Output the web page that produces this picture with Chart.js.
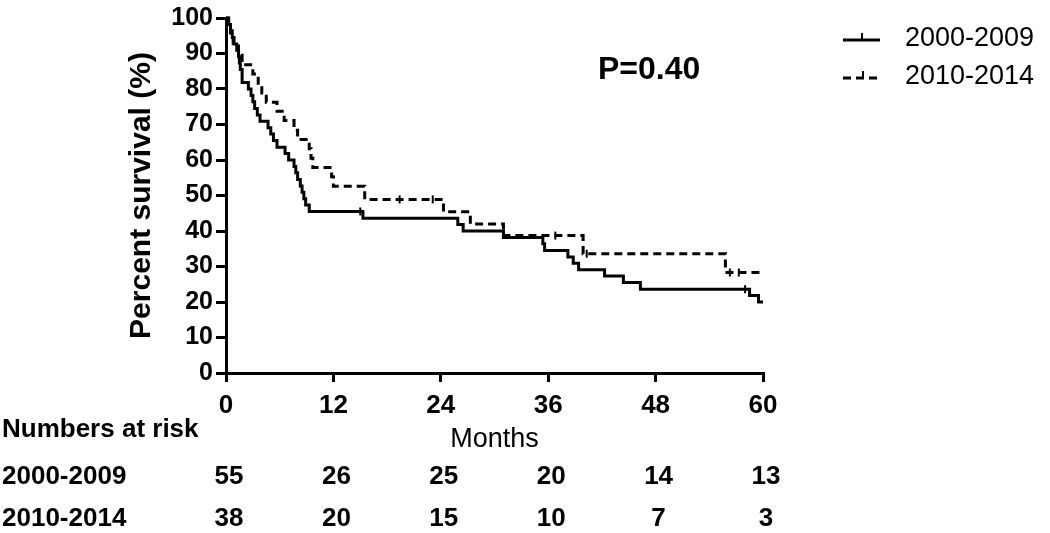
<!DOCTYPE html>
<html>
<head>
<meta charset="utf-8">
<title>Survival by treatment period</title>
<script src="https://cdn.jsdelivr.net/npm/chart.js@4.4.0/dist/chart.umd.min.js"></script>
<style>
  body { margin: 0; background: #fff; }
</style>
</head>
<body>
<canvas id="kmChart" width="1050" height="533"></canvas>
<script>
let monthTicks = [0, 12, 24, 36, 48, 60];
let groups = ["2000-2009", "2010-2014"];

// 2000-2009 curve: month of each step and percent surviving after it
let earlyMonths = [0, 0.3, 0.5, 0.7, 0.9, 1.2, 1.4, 1.5, 1.6, 1.8, 2.5, 2.8, 3.0, 3.2, 3.5,
  3.8, 4.7, 5.0, 5.3, 5.7, 6.6, 7.0, 7.6, 7.8, 8.0, 8.3, 8.5, 8.7, 8.9, 9.3,
  15.3, 25.9, 26.5, 31.0, 35.4, 35.6, 38.2, 38.8, 39.4, 42.3, 44.4, 46.3, 58.5, 59.5, 60];
let earlySurvival = [100, 98.2, 96.4, 94.5, 92.7, 90.9, 89.1, 87.3, 85.5, 81.8, 80.0, 78.2, 76.4, 74.5, 72.7,
  70.9, 69.1, 67.3, 65.5, 63.6, 61.8, 60.0, 58.2, 56.4, 54.5, 52.7, 50.9, 49.1, 47.3, 45.5,
  43.6, 41.8, 40.0, 38.2, 36.4, 34.5, 32.7, 30.9, 29.1, 27.3, 25.5, 23.6, 21.8, 20.0, 20.0];

// 2010-2014 curve
let lateMonths = [0, 0.2, 0.5, 0.8, 1.4, 1.8, 3.0, 3.6, 4.0, 4.5, 5.7, 6.5, 7.6, 8.0, 9.3,
  9.5, 9.7, 11.8, 12.0, 15.5, 24.3, 27.3, 31.0, 39.9, 55.8, 60];
let lateSurvival = [100, 97.4, 94.7, 92.1, 89.5, 86.8, 84.2, 81.6, 78.9, 76.3, 73.7, 71.1, 68.4, 65.8, 63.2,
  60.5, 57.9, 55.3, 52.6, 48.9, 45.4, 42.0, 38.7, 33.6, 28.3, 28.3];

// censored observations
let earlyCensorMonths = [15.0, 58.0];
let earlyCensorSurvival = [45.5, 23.6];
let lateCensorMonths = [19.4, 23.1, 36.8, 40.3, 56.3, 57.3];
let lateCensorSurvival = [48.9, 48.9, 38.7, 33.6, 28.3, 28.3];

let earlyAtRisk = [55, 26, 25, 20, 14, 13];
let lateAtRisk = [38, 20, 15, 10, 7, 3];
let pValue = "P=0.40";

let fontFamily = "'Liberation Sans', Arial, sans-serif";

function points(xs, ys) {
  return xs.map((m, i) => ({ x: m, y: ys[i] }));
}

let extras = {
  id: 'extras',
  afterDraw(chart) {
    let c = chart.ctx;
    let xs = chart.scales.x;
    c.save();
    c.fillStyle = '#000';
    c.strokeStyle = '#000';
    c.textBaseline = 'middle';

    c.font = 'bold 32px ' + fontFamily;
    c.textAlign = 'left';
    c.fillText(pValue, 598, 70);

    // legend
    c.lineWidth = 3;
    c.beginPath(); c.moveTo(843, 40); c.lineTo(880, 40); c.stroke();
    c.lineWidth = 2;
    c.beginPath(); c.moveTo(862, 40); c.lineTo(862, 33); c.stroke();
    c.lineWidth = 3;
    c.setLineDash([8, 5]);
    c.beginPath(); c.moveTo(843, 78); c.lineTo(882, 78); c.stroke();
    c.setLineDash([]);
    c.lineWidth = 2;
    c.beginPath(); c.moveTo(863, 78); c.lineTo(863, 71); c.stroke();
    c.font = '27px ' + fontFamily;
    c.fillText(groups[0], 905, 39);
    c.fillText(groups[1], 905, 77);

    // numbers at risk
    c.font = 'bold 26px ' + fontFamily;
    c.fillText('Numbers at risk', 2, 430);
    [earlyAtRisk, lateAtRisk].forEach((row, i) => {
      let y = i === 0 ? 477 : 519;
      c.textAlign = 'left';
      c.fillText(groups[i], 2, y);
      c.textAlign = 'center';
      row.forEach((n, j) => c.fillText(String(n), xs.getPixelForValue(monthTicks[j]) + 3, y));
    });
    c.restore();
  }
};

let ctx = document.getElementById('kmChart').getContext('2d');

let chart = new Chart(ctx, {
  type: 'scatter',
  data: {
    datasets: [
      {
        label: groups[0],
        data: points(earlyMonths, earlySurvival),
        showLine: true,
        stepped: true,
        borderColor: '#000',
        borderWidth: 3,
        pointRadius: 0,
        clip: 6
      },
      {
        label: groups[1],
        data: points(lateMonths, lateSurvival),
        showLine: true,
        stepped: true,
        borderColor: '#000',
        borderWidth: 3,
        borderDash: [8, 5],
        pointRadius: 0,
        clip: 6
      },
      {
        label: groups[0] + ' censored',
        data: points(earlyCensorMonths, earlyCensorSurvival),
        pointStyle: 'line',
        rotation: 90,
        pointRadius: 4,
        borderColor: '#000',
        borderWidth: 2
      },
      {
        label: groups[1] + ' censored',
        data: points(lateCensorMonths, lateCensorSurvival),
        pointStyle: 'line',
        rotation: 90,
        pointRadius: 4,
        borderColor: '#000',
        borderWidth: 2
      }
    ]
  },
  options: {
    responsive: false,
    animation: false,
    layout: { padding: { left: 0, top: 15, right: 287, bottom: 74 } },
    plugins: {
      legend: { display: false },
      tooltip: { enabled: false }
    },
    scales: {
      x: {
        type: 'linear',
        min: 0,
        max: 60,
        afterBuildTicks: s => { s.ticks = monthTicks.map(v => ({ value: v })); },
        afterFit: s => { s.height = 86; },
        ticks: {
          color: '#000',
          padding: 8,
          font: { family: fontFamily, size: 26, weight: 'bold' }
        },
        grid: { drawOnChartArea: false, tickLength: 9, color: '#000', lineWidth: 3 },
        border: { color: '#000', width: 3 },
        title: {
          display: true,
          text: 'Months',
          color: '#000',
          padding: { top: 0, bottom: 3 },
          font: { family: fontFamily, size: 27 }
        }
      },
      y: {
        min: 0,
        max: 100,
        afterFit: s => { s.width = 226; },
        ticks: {
          stepSize: 10,
          color: '#000',
          padding: 3,
          font: { family: fontFamily, size: 25, weight: 'bold' }
        },
        grid: { drawOnChartArea: false, tickLength: 10, color: '#000', lineWidth: 3 },
        border: { color: '#000', width: 3 },
        title: {
          display: true,
          text: 'Percent survival (%)',
          color: '#000',
          padding: { top: 124, bottom: 0 },
          font: { family: fontFamily, size: 30, weight: 'bold' }
        }
      }
    }
  },
  plugins: [extras]
});
</script>
</body>
</html>
